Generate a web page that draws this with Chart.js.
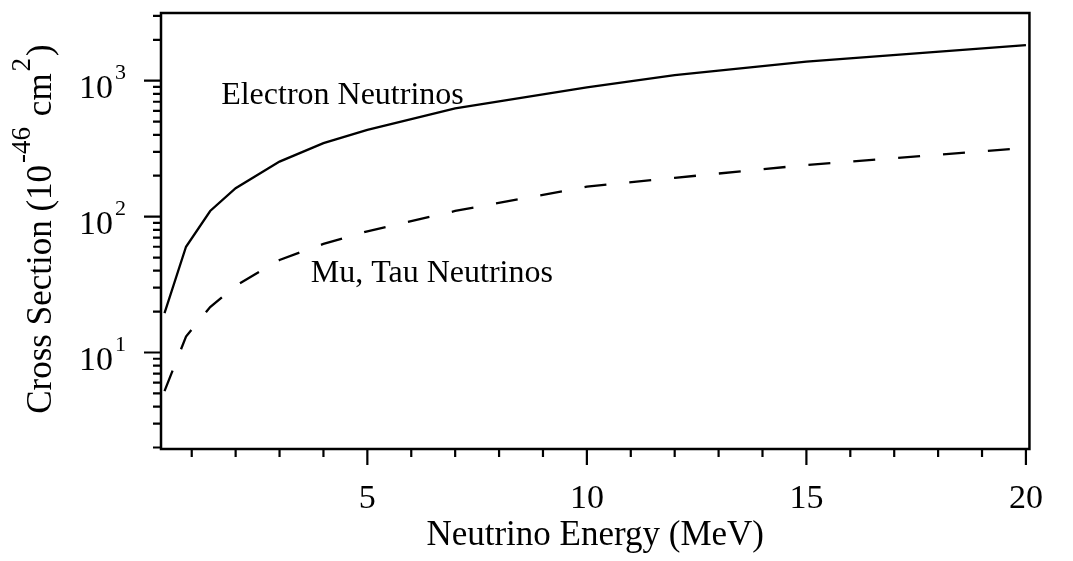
<!DOCTYPE html>
<html lang="en">
<head>
    <meta charset="UTF-8">
    <title>Neutrino Cross Section</title>
    <script src="https://cdn.jsdelivr.net/npm/chart.js"></script>
    <style>
        body { margin: 0; background: #fff; }
        .wrap { width: 1073px; height: 561px; }
    </style>
</head>
<body>
    <div class="wrap">
        <canvas id="xsecChart"></canvas>
    </div>

    <script>
        // Data (energy in MeV, cross section in 10^-46 cm^2)
        const energy = [0.38, 0.87, 1.42, 2, 3, 4, 5, 7, 10, 12, 15, 20];
        const electronXsec = [19.5, 60, 110, 162, 254, 347, 434, 627, 895, 1100, 1380, 1830];
        const muTauXsec = [5.2, 13.1, 21.6, 31, 48, 63, 78, 110, 166, 193, 240, 320];

        // Axis ticks
        const xTicks = [1, 2, 3, 4, 5, 6, 7, 8, 9, 10, 11, 12, 13, 14, 15, 16, 17, 18, 19, 20];
        const xMajor = [5, 10, 15, 20];
        const yTicks = [2, 3, 4, 5, 6, 7, 8, 9, 10, 20, 30, 40, 50, 60, 70, 80, 90,
                        100, 200, 300, 400, 500, 600, 700, 800, 900, 1000, 2000, 3000];
        const yMajor = [10, 100, 1000];

        // In-plot curve labels: [text, energy, cross section]
        const curveLabels = [
            ['Electron Neutrinos', 1.67, 674],
            ['Mu, Tau Neutrinos', 3.71, 33.3]
        ];

        const serif = '"Liberation Serif", "Times New Roman", serif';

        // Frame, tick marks, y labels with exponents, y title and curve labels
        const decorPlugin = {
            id: 'decor',
            afterDraw(chart) {
                const ctx = chart.ctx;
                const xs = chart.scales.x;
                const ys = chart.scales.y;
                const a = chart.chartArea;
                ctx.save();
                ctx.strokeStyle = '#000';
                ctx.fillStyle = '#000';

                // frame
                ctx.lineWidth = 2.5;
                ctx.strokeRect(a.left, a.top, a.right - a.left, a.bottom - a.top);

                // x tick marks
                ctx.lineWidth = 2.2;
                ctx.beginPath();
                xTicks.forEach(v => {
                    const px = xs.getPixelForValue(v);
                    const len = xMajor.includes(v) ? 16 : 8;
                    ctx.moveTo(px, a.bottom);
                    ctx.lineTo(px, a.bottom + len);
                });
                // y tick marks
                yTicks.forEach(v => {
                    const py = ys.getPixelForValue(v);
                    const len = yMajor.includes(v) ? 17 : 8;
                    ctx.moveTo(a.left, py);
                    ctx.lineTo(a.left - len, py);
                });
                ctx.stroke();

                // y labels: 10 with raised exponent
                yMajor.forEach(v => {
                    const py = ys.getPixelForValue(v);
                    ctx.font = '34px ' + serif;
                    ctx.textAlign = 'right';
                    ctx.textBaseline = 'alphabetic';
                    ctx.fillText('10', a.left - 48, py + 17.5);
                    ctx.font = '22px ' + serif;
                    ctx.textAlign = 'left';
                    ctx.fillText(String(Math.round(Math.log10(v))), a.left - 46, py - 2);
                });

                // y title, rotated, with superscripts: [text, size, rise, gap after]
                const parts = [
                    ['Cross Section (10', 35, 0, 2],
                    ['-46', 27, 21, 2],
                    [' cm', 35, 0, 2],
                    ['2', 27, 21, 2],
                    [')', 35, 0, 0]
                ];
                let total = 0;
                parts.forEach(p => {
                    ctx.font = p[1] + 'px ' + serif;
                    p.push(ctx.measureText(p[0]).width);
                    total += p[4] + p[3];
                });
                ctx.translate(51, 229);
                ctx.rotate(-Math.PI / 2);
                ctx.textAlign = 'left';
                let cx = -total / 2;
                parts.forEach(p => {
                    ctx.font = p[1] + 'px ' + serif;
                    ctx.fillText(p[0], cx, -p[2]);
                    cx += p[4] + p[3];
                });
                ctx.setTransform(1, 0, 0, 1, 0, 0);

                // curve labels
                ctx.font = '32px ' + serif;
                ctx.textAlign = 'left';
                curveLabels.forEach(l => {
                    ctx.fillText(l[0], xs.getPixelForValue(l[1]), ys.getPixelForValue(l[2]));
                });
                ctx.restore();
            }
        };

        const ctx = document.getElementById('xsecChart').getContext('2d');
        const xsecChart = new Chart(ctx, {
            type: 'line',
            data: {
                datasets: [{
                    label: 'Electron Neutrinos',
                    data: energy.map((e, i) => ({ x: e, y: electronXsec[i] })),
                    borderColor: '#000',
                    borderWidth: 2.3,
                    pointRadius: 0,
                    tension: 0
                }, {
                    label: 'Mu, Tau Neutrinos',
                    data: energy.map((e, i) => ({ x: e, y: muTauXsec[i] })),
                    borderColor: '#000',
                    borderWidth: 2.3,
                    borderDash: [22, 23],
                    pointRadius: 0,
                    tension: 0
                }]
            },
            options: {
                responsive: true,
                maintainAspectRatio: false,
                animation: false,
                layout: { padding: { top: 13, right: 18, left: 0, bottom: 0 } },
                plugins: {
                    legend: { display: false },
                    tooltip: { enabled: false }
                },
                scales: {
                    x: {
                        type: 'linear',
                        min: 0.3,
                        max: 20.08,
                        afterBuildTicks: s => { s.ticks = xTicks.map(v => ({ value: v })); },
                        afterFit: s => { s.height = 112; },
                        grid: { display: false, drawTicks: false },
                        border: { display: false },
                        ticks: {
                            autoSkip: false,
                            maxRotation: 0,
                            padding: 30,
                            color: '#000',
                            font: { family: serif, size: 34 },
                            callback: v => xMajor.includes(v) ? String(v) : ''
                        },
                        title: {
                            display: true,
                            text: 'Neutrino Energy (MeV)',
                            color: '#000',
                            font: { family: serif, size: 35 },
                            padding: { top: 0, bottom: 4 }
                        }
                    },
                    y: {
                        type: 'logarithmic',
                        min: 1.95,
                        max: 3150,
                        afterBuildTicks: s => { s.ticks = yTicks.map(v => ({ value: v })); },
                        afterFit: s => { s.width = 161; },
                        grid: { display: false, drawTicks: false },
                        border: { display: false },
                        ticks: { display: false }
                    }
                }
            },
            plugins: [decorPlugin]
        });
    </script>
</body>
</html>
